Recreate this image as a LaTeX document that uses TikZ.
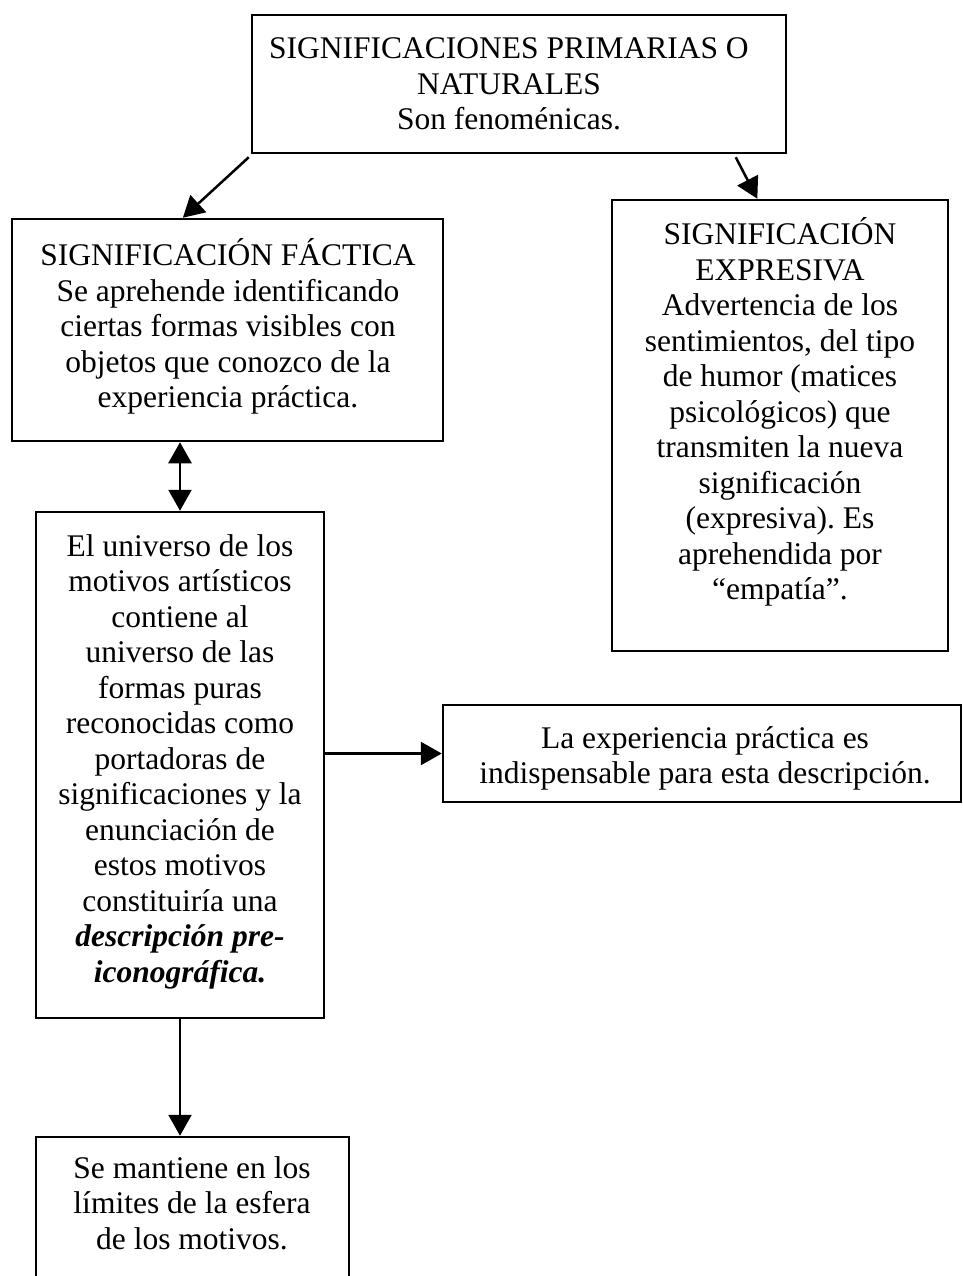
\documentclass[tikz,border=0pt]{standalone}
\usepackage{fontspec}
\setmainfont{Liberation Serif}
\usetikzlibrary{arrows.meta,fit,calc}
\frenchspacing
\begin{document}
\begin{tikzpicture}[x=0.5pt,y=-0.5pt,
  box/.style={draw, line width=1.25pt, inner sep=0pt},
  txt/.style={anchor=north, align=center, inner sep=0pt, font=\fontsize{15.75}{17.75}\selectfont},
  arr/.style={line width=1.25pt, -{Triangle[length=10.5pt,width=11.5pt]}},
  arrboth/.style={line width=1.25pt, {Triangle[length=10.5pt,width=11.5pt]}-{Triangle[length=10.5pt,width=11.5pt]}},
]
\useasboundingbox (0,0) rectangle (963,1276);

% boxes
\node[box, fit={(252,15) (786,153)}] (top) {};
\node[box, fit={(12,219) (443,441)}] (fact) {};
\node[box, fit={(612,200) (948,651)}] (expr) {};
\node[box, fit={(36,512) (324,1018)}] (main) {};
\node[box, fit={(443,705) (961,802)}] (lae) {};
\node[box, fit={(36,1137) (349,1330)}] (bot) {};

% texts
\node[txt] (ttop) at (509,33.7) {\strut SIGNIFICACIONES PRIMARIAS O\\NATURALES\\Son fenoménicas.};
\node[txt] (tfact) at (228,238.2) {\strut SIGNIFICACIÓN FÁCTICA\\Se aprehende identificando\\ciertas formas visibles con\\objetos que conozco de la\\experiencia práctica.};
\node[txt] (texpr) at (780,217.2) {\strut SIGNIFICACIÓN\\EXPRESIVA\\Advertencia de los\\sentimientos, del tipo\\de humor (matices\\psicológicos) que\\transmiten la nueva\\significación\\(expresiva). Es\\aprehendida por\\“empatía”.};
\node[txt] (tmain) at (180,531.2) {\strut El universo de los\\motivos artísticos\\contiene al\\universo de las\\formas puras\\reconocidas como\\portadoras de\\significaciones y la\\enunciación de\\estos motivos\\constituiría una\\\textbf{\textit{descripción pre-}}\\\textbf{\textit{iconográfica.}}};
\node[txt] (tlae) at (705,723.2) {\strut La experiencia práctica es\\indispensable para esta descripción.};
\node[txt] (tbot) at (192,1153.2) {\strut Se mantiene en los\\límites de la esfera\\de los motivos.};

% connectors
\draw[arr] ($(top.south west)+(-2,3)$) -- ($(fact.north west)!0.397!(fact.north east)$);
\draw[arr] ($(top.south west)!0.904!(top.south east)+(0,3)$) -- ($(expr.north west)!0.433!(expr.north east)$);
\draw[arrboth] (main.north) -- (main.north |- fact.south);
\draw[arr] (main.east |- lae.west) -- (lae.west);
\draw[arr] (main.south) -- (main.south |- bot.north);
\end{tikzpicture}
\end{document}
